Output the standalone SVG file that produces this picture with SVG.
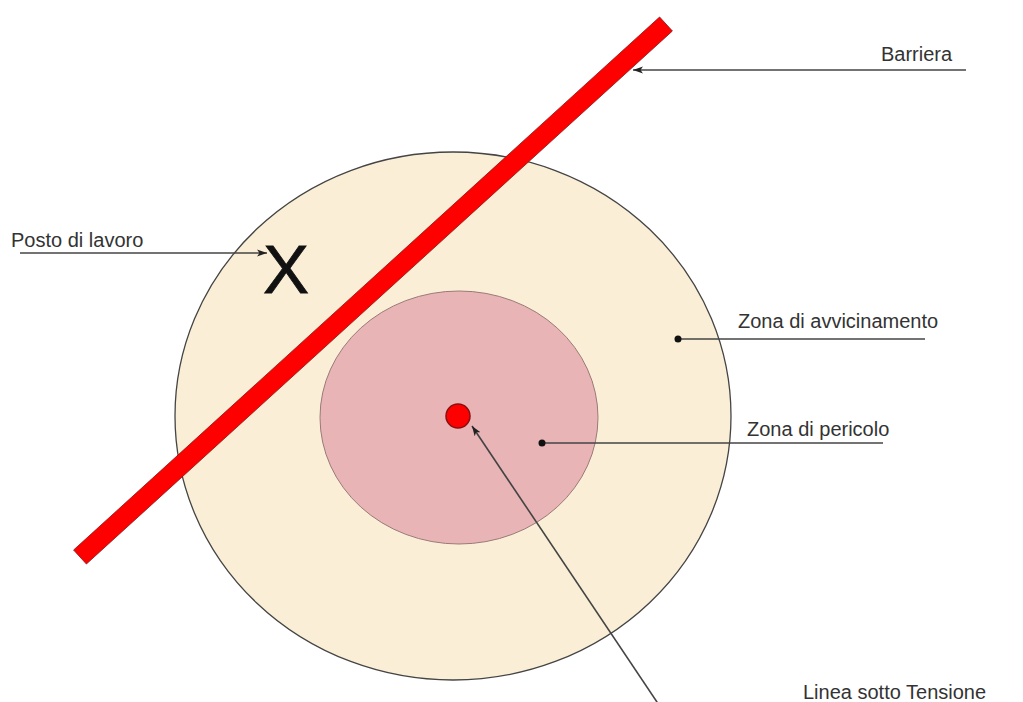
<svg xmlns="http://www.w3.org/2000/svg" width="1023" height="702" viewBox="0 0 1023 702">
<defs>
<style>
.lbl{font-family:"Liberation Sans",Arial,sans-serif;font-size:20px;fill:#333}
.ln{stroke:#444;stroke-width:1.6;fill:none}
.dot{fill:#111}
</style>
<marker id="ah" viewBox="0 0 10 10" refX="10" refY="5" markerWidth="10" markerHeight="10" markerUnits="userSpaceOnUse" orient="auto">
<path d="M0,1.5 L10,5 L0,8.5 L2.5,5 Z" fill="#222"/>
</marker>
</defs>
<rect width="1023" height="702" fill="#fff"/>
<g id="zona-avvicinamento">
<ellipse cx="453" cy="416" rx="278" ry="264" fill="#FAEFD6" stroke="#444" stroke-width="1.3"/>
</g>
<g id="zona-pericolo">
<ellipse cx="459" cy="417.5" rx="139" ry="126.5" fill="#E8B4B6" stroke="#9a7a78" stroke-width="1"/>
</g>
<g id="linea-tensione">
<circle cx="458" cy="416" r="12" fill="#FF0000" stroke="#8a1010" stroke-width="1.5"/>
</g>
<g id="barriera">
<polygon points="659.6,17 672.4,31 86.4,564 73.6,550" fill="#FF0000" stroke="#8a1010" stroke-width="0.8"/>
</g>
<g id="posto-lavoro">
<text x="286" y="293" font-family="Liberation Sans,Arial,sans-serif" font-size="69" fill="#111" stroke="#111" stroke-width="0.8" text-anchor="middle">X</text>
</g>
<g id="connectors">
<line class="ln" x1="966" y1="70" x2="633" y2="70" marker-end="url(#ah)"/>
<line class="ln" x1="20" y1="253" x2="267" y2="253" marker-end="url(#ah)"/>
<line class="ln" x1="678" y1="339" x2="925" y2="339"/>
<circle class="dot" cx="678" cy="339" r="3.5"/>
<line class="ln" x1="542" y1="443" x2="883" y2="443"/>
<circle class="dot" cx="542" cy="443" r="3.5"/>
<line class="ln" x1="659" y1="705" x2="472" y2="426" marker-end="url(#ah)"/>
</g>
<g id="labels">
<text class="lbl" x="881" y="61">Barriera</text>
<text class="lbl" x="11" y="247">Posto di lavoro</text>
<text class="lbl" x="738" y="328">Zona di avvicinamento</text>
<text class="lbl" x="747" y="436">Zona di pericolo</text>
<text class="lbl" x="803" y="699">Linea sotto Tensione</text>
</g>
</svg>
